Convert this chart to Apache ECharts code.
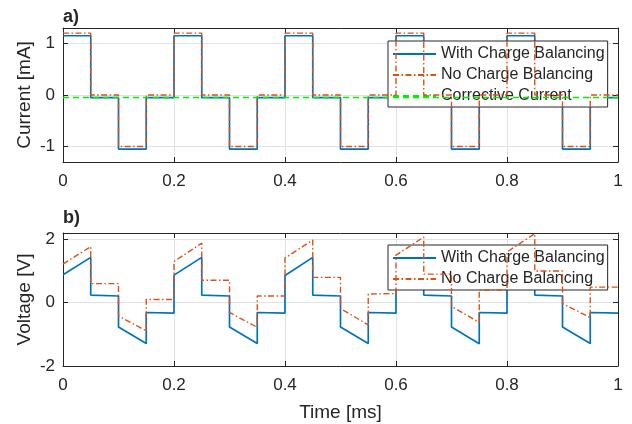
<!DOCTYPE html>
<html>
<head>
<meta charset="utf-8">
<script src="https://cdn.jsdelivr.net/npm/echarts@6/dist/echarts.min.js"></script>
<style>
html,body{margin:0;padding:0;background:#fff;}
#chart{width:632px;height:424px;}
</style>
</head>
<body>
<div id="chart"></div>
<script>
// ---- Data ----
// Breakpoint times [ms] (repeated times give the vertical jumps)
var timeBreaks = [
  0, 0.05, 0.05, 0.1, 0.1, 0.15, 0.15, 0.2,
  0.2, 0.25, 0.25, 0.3, 0.3, 0.35, 0.35, 0.4,
  0.4, 0.45, 0.45, 0.5, 0.5, 0.55, 0.55, 0.6,
  0.6, 0.65, 0.65, 0.7, 0.7, 0.75, 0.75, 0.8,
  0.8, 0.85, 0.85, 0.9, 0.9, 0.95, 0.95, 1.0
];
// Panel a) current [mA]
var currentWith = [
  1.15, 1.15, -0.05, -0.05, -1.05, -1.05, -0.05, -0.05,
  1.15, 1.15, -0.05, -0.05, -1.05, -1.05, -0.05, -0.05,
  1.15, 1.15, -0.05, -0.05, -1.05, -1.05, -0.05, -0.05,
  1.15, 1.15, -0.05, -0.05, -1.05, -1.05, -0.05, -0.05,
  1.15, 1.15, -0.05, -0.05, -1.05, -1.05, -0.05, -0.05
];
var currentNo = [
  1.2, 1.2, 0, 0, -1, -1, 0, 0,
  1.2, 1.2, 0, 0, -1, -1, 0, 0,
  1.2, 1.2, 0, 0, -1, -1, 0, 0,
  1.2, 1.2, 0, 0, -1, -1, 0, 0,
  1.2, 1.2, 0, 0, -1, -1, 0, 0
];
var correctiveTime = [0, 1.0];
var correctiveCurrent = [-0.05, -0.05];
// Panel b) voltage [V]
var voltageWith = [
  0.88, 1.43, 0.24, 0.21, -0.77, -1.29, -0.31, -0.33,
  0.87, 1.43, 0.24, 0.21, -0.77, -1.29, -0.31, -0.33,
  0.86, 1.43, 0.24, 0.21, -0.77, -1.29, -0.31, -0.33,
  0.87, 1.43, 0.24, 0.21, -0.77, -1.30, -0.31, -0.33,
  0.87, 1.43, 0.24, 0.21, -0.77, -1.29, -0.31, -0.33
];
var voltageNo = [
  1.22, 1.77, 0.60, 0.60, -0.42, -0.89, 0.10, 0.10,
  1.30, 1.88, 0.71, 0.71, -0.31, -0.78, 0.21, 0.21,
  1.41, 1.98, 0.80, 0.80, -0.19, -0.70, 0.27, 0.29,
  1.50, 2.07, 0.90, 0.90, -0.12, -0.62, 0.40, 0.40,
  1.60, 2.18, 1.00, 1.00, -0.03, -0.47, 0.49, 0.49
];
var xTicks = [0, 0.2, 0.4, 0.6, 0.8, 1];
var currentTicks = [-1, 0, 1];
var voltageTicks = [-2, 0, 2];

var names = ['With Charge Balancing', 'No Charge Balancing', 'Corrective Current'];

function pairs(ts, vs) { return ts.map(function (t, i) { return [t, vs[i]]; }); }

var TXT = '#262626';
var FONT = '"Liberation Sans", Arial, Helvetica, sans-serif';
var GRIDC = '#e2e2e2';
var BLUE = '#0072BD', ORANGE = '#D95319', GREEN = '#00ee00';

function xAx(grid, main, withName) {
  var a = {
    type: 'value', gridIndex: grid, min: 0, max: 1,
    position: main ? 'bottom' : 'top',
    axisLine: { show: true, onZero: false, lineStyle: { color: TXT, width: 1 } },
    axisTick: { show: true, inside: true, length: 5, lineStyle: { color: TXT }, customValues: xTicks },
    axisLabel: { show: main, fontSize: 17, color: TXT, margin: 11, fontFamily: FONT, customValues: xTicks },
    splitLine: { show: main, lineStyle: { color: GRIDC, width: 1 } }
  };
  if (withName) {
    a.name = 'Time [ms]'; a.nameLocation = 'middle'; a.nameGap = 37; a.nameMoveOverlap = false;
    a.nameTextStyle = { fontSize: 19, color: TXT, fontFamily: FONT };
  }
  return a;
}
function yAx(grid, main, mn, mx, ticks, name) {
  var a = {
    type: 'value', gridIndex: grid, min: mn, max: mx,
    position: main ? 'left' : 'right',
    axisLine: { show: true, onZero: false, lineStyle: { color: TXT, width: 1 } },
    axisTick: { show: true, inside: true, length: 5, lineStyle: { color: TXT }, customValues: ticks },
    axisLabel: { show: main, fontSize: 17, color: TXT, margin: 8, fontFamily: FONT, customValues: ticks },
    splitLine: { show: main, lineStyle: { color: GRIDC, width: 1 } }
  };
  if (name) {
    a.name = name; a.nameLocation = 'middle'; a.nameGap = 29; a.nameRotate = 90; a.nameMoveOverlap = false;
    a.nameTextStyle = { fontSize: 19, color: TXT, fontFamily: FONT };
  }
  return a;
}

var legendBase = {
  orient: 'vertical', left: 388, itemWidth: 43, itemHeight: 14, itemGap: 5,
  padding: [5, 3, 3, 4], backgroundColor: '#fff', borderColor: TXT, borderWidth: 1,
  borderRadius: 0, selectedMode: false,
  itemStyle: { opacity: 0 },
  textStyle: { fontSize: 16, color: TXT, fontFamily: FONT, padding: [0, 0, 0, 0] }
};

var option = {
  animation: false,
  backgroundColor: '#fff',
  textStyle: { fontFamily: FONT },
  title: [
    { text: 'a)', left: 58, top: 3, textStyle: { fontSize: 18, fontWeight: 'bold', color: TXT, fontFamily: FONT } },
    { text: 'b)', left: 58, top: 204, textStyle: { fontSize: 18, fontWeight: 'bold', color: TXT, fontFamily: FONT } }
  ],
  grid: [
    { left: 63, right: 14, top: 28, height: 134 },
    { left: 63, right: 14, top: 233, height: 133 }
  ],
  legend: [
    Object.assign({}, legendBase, { top: 41, data: names.slice() }),
    Object.assign({}, legendBase, { top: 245, data: names.slice(0, 2) })
  ],
  xAxis: [xAx(0, true, false), xAx(0, false, false), xAx(1, true, true), xAx(1, false, false)],
  yAxis: [
    yAx(0, true, -1.3, 1.3, currentTicks, 'Current [mA]'),
    yAx(0, false, -1.3, 1.3, currentTicks, null),
    yAx(1, true, -2, 2.2, voltageTicks, 'Voltage [V]'),
    yAx(1, false, -2, 2.2, voltageTicks, null)
  ],
  series: [
    { name: names[0], type: 'line', xAxisIndex: 0, yAxisIndex: 0, symbol: 'none', z: 3,
      data: pairs(timeBreaks, currentWith), itemStyle: { color: BLUE },
      lineStyle: { color: BLUE, width: 1.7 } },
    { name: names[1], type: 'line', xAxisIndex: 0, yAxisIndex: 0, symbol: 'none', z: 4,
      data: pairs(timeBreaks, currentNo), itemStyle: { color: ORANGE },
      lineStyle: { color: ORANGE, width: 1.4, type: [6, 2.5, 1.5, 2.5] } },
    { name: names[2], type: 'line', xAxisIndex: 0, yAxisIndex: 0, symbol: 'none', z: 5,
      data: pairs(correctiveTime, correctiveCurrent), itemStyle: { color: GREEN },
      lineStyle: { color: GREEN, width: 1.5, type: [6, 4] } },
    { name: names[0], type: 'line', xAxisIndex: 2, yAxisIndex: 2, symbol: 'none', z: 3,
      data: pairs(timeBreaks, voltageWith), itemStyle: { color: BLUE },
      lineStyle: { color: BLUE, width: 1.7 } },
    { name: names[1], type: 'line', xAxisIndex: 2, yAxisIndex: 2, symbol: 'none', z: 4,
      data: pairs(timeBreaks, voltageNo), itemStyle: { color: ORANGE },
      lineStyle: { color: ORANGE, width: 1.4, type: [6, 2.5, 1.5, 2.5] } }
  ]
};

var chart = echarts.init(document.getElementById('chart'), null, { renderer: 'canvas' });
chart.setOption(option);
</script>
</body>
</html>
